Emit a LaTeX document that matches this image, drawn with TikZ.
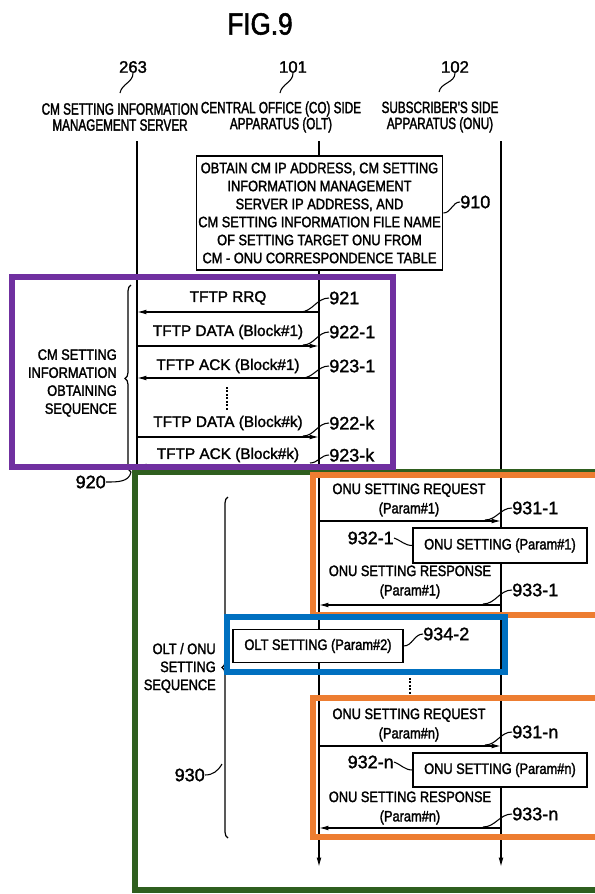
\documentclass[tikz,border=0pt]{standalone}
\usepackage{fontspec}
\setmainfont[FakeBold=1.6]{Liberation Sans}
\newfontfamily\headfont[FakeStretch=0.72,FakeBold=1.8]{Liberation Sans}
\newfontfamily\bodyfont[FakeStretch=0.85,FakeBold=1.8]{Liberation Sans}
\usetikzlibrary{positioning,arrows.meta,decorations.pathreplacing}

\definecolor{frame-purple}{HTML}{7030A0}
\definecolor{frame-green}{HTML}{2F5F1F}
\definecolor{frame-orange}{HTML}{ED7D31}
\definecolor{frame-blue}{HTML}{0070C0}

\begin{document}
\begin{tikzpicture}
[
x=0.75pt, y=-0.75pt,
life-a/.style={line width=0.9pt},
msg-a/.style={line width=1pt, -{Latex[length=7pt,width=3.6pt]}},
lead-a/.style={line width=0.8pt},
dots-a/.style={line width=1.4pt, dash pattern=on 1.3pt off 1.3pt},
text-a/.style={font=\fontsize{11.5pt}{13pt}\selectfont, inner sep=0pt},
text-b/.style={font=\headfont\fontsize{12.2pt}{12pt}\selectfont, align=center, inner sep=0pt},
text-c/.style={font=\bodyfont\fontsize{11.3pt}{13.5pt}\selectfont, align=center, inner sep=0pt},
text-d/.style={font=\bodyfont\fontsize{11.3pt}{14.5pt}\selectfont, align=center, inner sep=0pt},
tag-a/.style={font=\fontsize{13.5pt}{15pt}\selectfont, inner sep=0pt},
tag-b/.style={font=\fontsize{12.5pt}{14pt}\selectfont, inner sep=0pt},
box-a/.style={draw, fill=white, line width=0.9pt, inner sep=0pt},
frame-a/.style={line width=4.5pt},
brace-a/.style={decorate, decoration={brace, amplitude=4.5pt}, line width=0.9pt}
]
\useasboundingbox (0,0) rectangle (595,894);
\fill [white] (0,0) rectangle (595,894);
\clip (0,0) rectangle (595,894);

% header
\node (fig)      [font=\bodyfont\fontsize{23pt}{24pt}\selectfont, inner sep=0pt] at (260,24) {FIG.9};
\node (num-263)  [tag-b] at (133,67) {263};
\node (num-101)  [tag-b] at (293,67) {101};
\node (num-102)  [tag-b] at (455,67) {102};
\node (name-263) [text-b] at (120,117) {CM SETTING INFORMATION\\MANAGEMENT SERVER};
\node (name-101) [text-b] at (281,117) {CENTRAL OFFICE (CO) SIDE\\APPARATUS (OLT)};
\node (name-102) [text-b] at (440,117) {SUBSCRIBER'S SIDE\\APPARATUS (ONU)};
\coordinate (hook-263) at (120,93);
\coordinate (hook-101) at (280,93);
\coordinate (hook-102) at (439,92);
\draw [lead-a] (num-263.south) to[out=-90,in=80] (hook-263);
\draw [lead-a] (num-101.south) to[out=-90,in=80] (hook-101);
\draw [lead-a] (num-102.south) to[out=-90,in=80] (hook-102);

% lifelines
\coordinate (srv-top) at (137,141);
\coordinate (srv-end) at (137,467);
\coordinate (olt-top) at (319,141);
\coordinate (olt-end) at (319,867);
\coordinate (onu-top) at (501,141);
\coordinate (onu-end) at (501,867);
\draw [life-a] (srv-top) -- (srv-end);
\draw [msg-a, line width=0.9pt] (olt-top) -- (olt-end);
\draw [msg-a, line width=0.9pt] (onu-top) -- (onu-end);

% 910
\node (box-910) [box-a, text-c, minimum width=185pt, minimum height=85.5pt] at (319.5,213)
  {OBTAIN CM IP ADDRESS, CM SETTING\\INFORMATION MANAGEMENT\\SERVER IP ADDRESS, AND\\CM SETTING INFORMATION FILE NAME\\OF SETTING TARGET ONU FROM\\CM - ONU CORRESPONDENCE TABLE};
\node (tag-910) [tag-a, anchor=west] at (460,202) {910};
\draw [lead-a] (box-910.east) to[out=0,in=180] (tag-910.west);

% 920: cm setting information obtaining sequence
\foreach \n/\y in {921/312, 922-1/346, 923-1/378, 922-k/437, 923-k/466}
  {\coordinate (srv-\n) at (137,\y); \coordinate (olt-\n) at (319,\y);}
\draw [msg-a] (olt-921)   -- (srv-921);
\draw [msg-a] (srv-922-1) -- (olt-922-1);
\draw [msg-a] (olt-923-1) -- (srv-923-1);
\draw [msg-a] (srv-922-k) -- (olt-922-k);
\draw [msg-a] (olt-923-k) -- (srv-923-k);
\node (lb-921)   [text-a] at (228,298) {TFTP RRQ};
\node (lb-922-1) [text-a] at (228,332) {TFTP DATA (Block\#1)};
\node (lb-923-1) [text-a] at (228,366) {TFTP ACK (Block\#1)};
\node (lb-922-k) [text-a] at (228,423) {TFTP DATA (Block\#k)};
\node (lb-923-k) [text-a] at (228,455) {TFTP ACK (Block\#k)};
\coordinate (dots-1-a) at (227,387);
\coordinate (dots-1-b) at (227,410);
\draw [dots-a] (dots-1-a) -- (dots-1-b);
\node (tag-921)   [tag-a, anchor=west] at (329,298) {921};
\node (tag-922-1) [tag-a, anchor=west] at (329,332) {922-1};
\node (tag-923-1) [tag-a, anchor=west] at (329,366) {923-1};
\node (tag-922-k) [tag-a, anchor=west] at (329,423) {922-k};
\node (tag-923-k) [tag-a, anchor=west] at (329,455) {923-k};
\coordinate (lead-921)   at (300,312);
\coordinate (lead-922-1) at (303,345);
\coordinate (lead-923-1) at (302,378);
\coordinate (lead-922-k) at (303,436);
\coordinate (lead-923-k) at (310,463);
\draw [lead-a] (lead-921)   to[out=0,in=180] (tag-921.west);
\draw [lead-a] (lead-922-1) to[out=0,in=180] (tag-922-1.west);
\draw [lead-a] (lead-923-1) to[out=0,in=180] (tag-923-1.west);
\draw [lead-a] (lead-922-k) to[out=0,in=180] (tag-922-k.west);
\draw [lead-a] (lead-923-k) to[out=0,in=180] (tag-923-k.west);
\node (seq-920) [text-c, align=right, anchor=east] at (117,383) {CM SETTING\\INFORMATION\\OBTAINING\\SEQUENCE};
\coordinate (brace-920-a) at (131,472);
\coordinate (brace-920-b) at (131,285);
\draw [brace-a] (brace-920-a) -- (brace-920-b);
\node (tag-920) [tag-a, anchor=east] at (106,482) {920};
\draw [lead-a] (tag-920.east) to[out=0,in=-100] (brace-920-a);

% 930: olt / onu setting sequence
\foreach \n/\y in {931-1/521, 933-1/605, 931-n/746, 933-n/828}
  {\coordinate (olt-\n) at (319,\y); \coordinate (onu-\n) at (501,\y);}
\draw [msg-a] (olt-931-1) -- (onu-931-1);
\draw [msg-a] (onu-933-1) -- (olt-933-1);
\draw [msg-a] (olt-931-n) -- (onu-931-n);
\draw [msg-a] (onu-933-n) -- (olt-933-n);
\node (lb-931-1) [text-d] at (409,500) {ONU SETTING REQUEST\\(Param\#1)};
\node (lb-933-1) [text-d] at (410,582) {ONU SETTING RESPONSE\\(Param\#1)};
\node (lb-931-n) [text-d] at (409,725) {ONU SETTING REQUEST\\(Param\#n)};
\node (lb-933-n) [text-d] at (410,808) {ONU SETTING RESPONSE\\(Param\#n)};
\node (box-932-1) [box-a, text-c, minimum width=130.5pt, minimum height=26.25pt] at (500,545.5) {ONU SETTING (Param\#1)};
\node (box-932-n) [box-a, text-c, minimum width=130.5pt, minimum height=25.5pt] at (500,770) {ONU SETTING (Param\#n)};
\node (box-934-2) [box-a, text-c, minimum width=127.5pt, minimum height=24.75pt] at (318,646) {OLT SETTING (Param\#2)};
\coordinate (dots-2-a) at (410,678);
\coordinate (dots-2-b) at (410,694);
\draw [dots-a] (dots-2-a) -- (dots-2-b);
\node (tag-931-1) [tag-a, anchor=west] at (512,508) {931-1};
\node (tag-933-1) [tag-a, anchor=west] at (512,590) {933-1};
\node (tag-931-n) [tag-a, anchor=west] at (512,732) {931-n};
\node (tag-933-n) [tag-a, anchor=west] at (512,814) {933-n};
\node (tag-932-1) [tag-a, anchor=east] at (394,538) {932-1};
\node (tag-932-n) [tag-a, anchor=east] at (394,762) {932-n};
\node (tag-934-2) [tag-a, anchor=west] at (423,634) {934-2};
\coordinate (lead-931-1) at (485,520);
\coordinate (lead-933-1) at (483,604);
\coordinate (lead-931-n) at (485,745);
\coordinate (lead-933-n) at (483,827);
\draw [lead-a] (lead-931-1) to[out=0,in=180] (tag-931-1.west);
\draw [lead-a] (lead-933-1) to[out=0,in=180] (tag-933-1.west);
\draw [lead-a] (lead-931-n) to[out=0,in=180] (tag-931-n.west);
\draw [lead-a] (lead-933-n) to[out=0,in=180] (tag-933-n.west);
\draw [lead-a] (tag-932-1.east) to[out=-20,in=180] (box-932-1.west);
\draw [lead-a] (tag-932-n.east) to[out=-20,in=180] (box-932-n.west);
\draw [lead-a] (box-934-2.east) to[out=0,in=180] (tag-934-2.west);
\node (seq-930) [text-c, align=right, anchor=east] at (216,668) {OLT / ONU\\SETTING\\SEQUENCE};
\coordinate (brace-930-a) at (228,838);
\coordinate (brace-930-b) at (228,497);
\coordinate (hook-930) at (222,764);
\draw [brace-a] (brace-930-a) -- (brace-930-b);
\node (tag-930) [tag-a, anchor=east] at (205,775) {930};
\draw [lead-a] (tag-930.east) to[out=0,in=-120] (hook-930);

% coloured frames
\draw [frame-a, frame-green]  (135,472) rectangle (640,890);
\draw [frame-a, frame-purple] (12,277)  rectangle (393,467);
\draw [frame-a, frame-orange] (313,475) rectangle (640,615);
\draw [frame-a, frame-orange] (313,698) rectangle (640,837);
\draw [frame-a, frame-blue]   (227,617) rectangle (505,672);

\end{tikzpicture}
\end{document}
